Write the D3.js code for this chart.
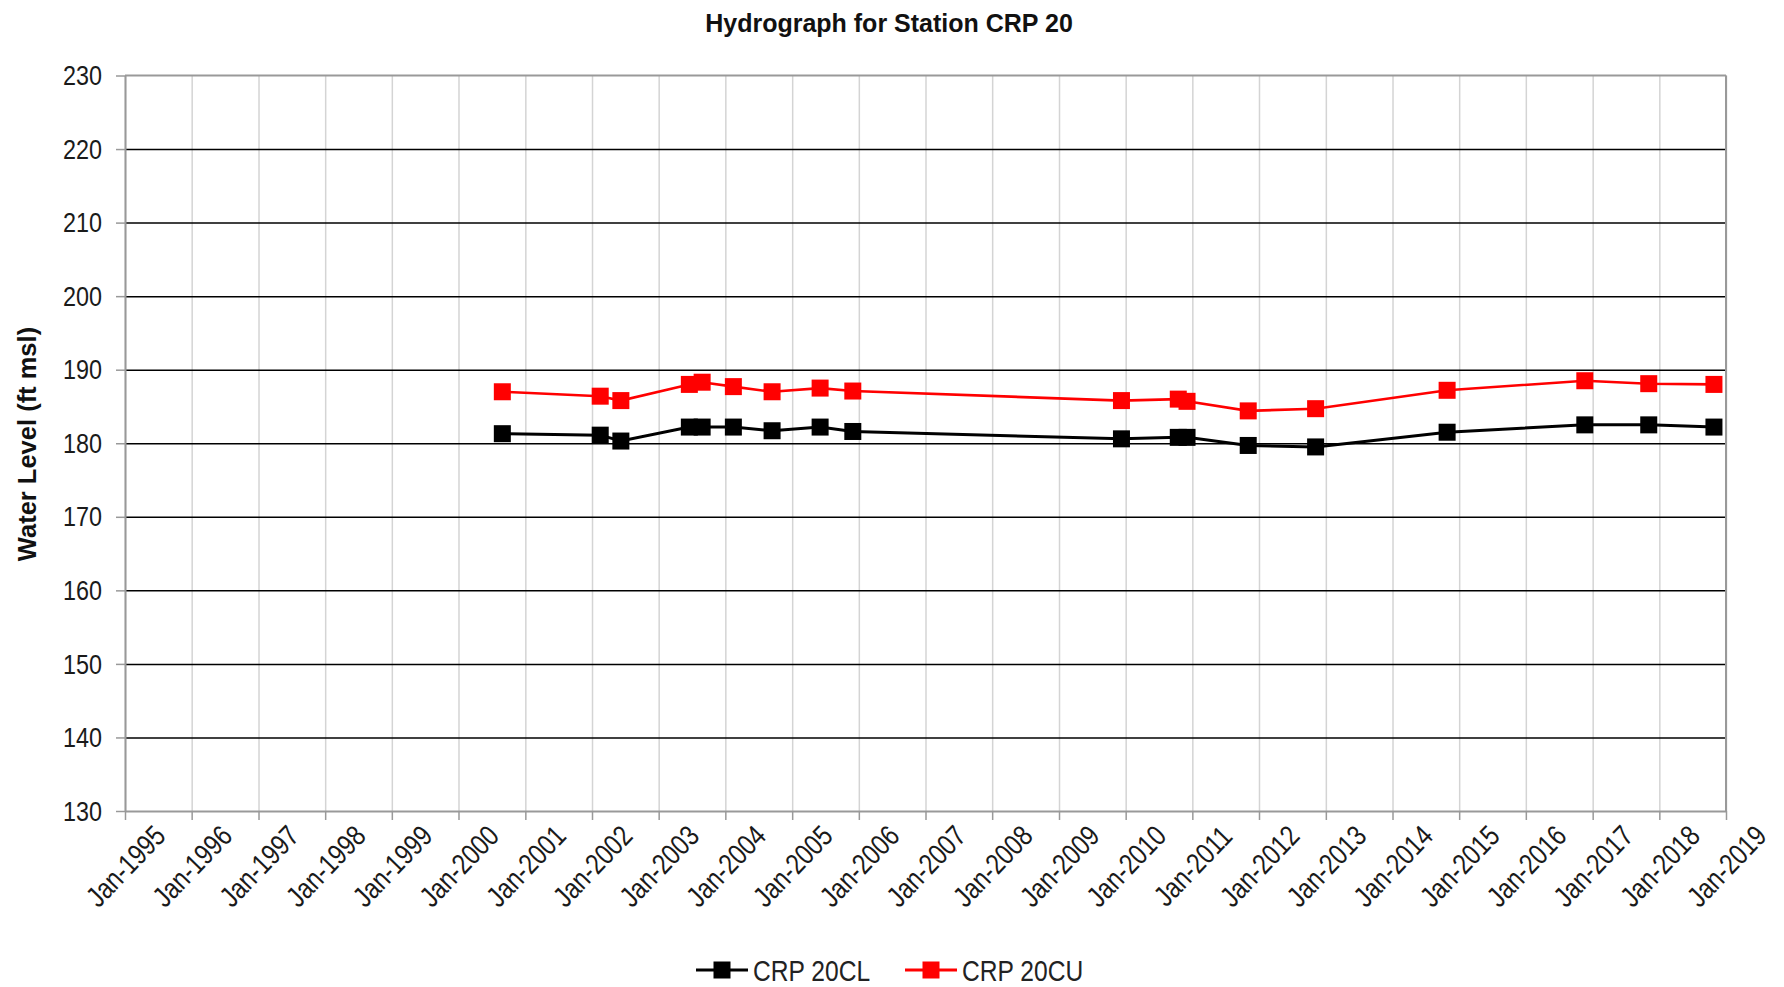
<!DOCTYPE html>
<html><head><meta charset="utf-8">
<script src="https://cdn.jsdelivr.net/npm/d3@7"></script>
<style>body{margin:0;background:#fff;} svg{display:block;background:#fff;}</style>
</head><body><svg id="c" width="1784" height="987"></svg>
<script>
const titleText = "Hydrograph for Station CRP 20";
const yAxisLabel = "Water Level (ft msl)";
const seriesNames = ["CRP 20CL", "CRP 20CU"];
const seriesColors = ["#000000", "#ff0000"];
const sampleDates = ["2000-08-28","2002-02-15","2002-06-08","2003-06-18","2003-08-27","2004-02-14","2004-09-13","2005-06-03","2005-11-29","2009-12-09","2010-10-16","2010-12-03","2011-11-03","2012-11-06","2014-10-27","2016-11-19","2017-11-04","2018-10-27"];
const valuesCL = [181.3,181.1,180.3,182.2,182.2,182.2,181.7,182.2,181.6,180.6,180.8,180.8,179.7,179.5,181.5,182.5,182.5,182.2];
const valuesCU = [187.0,186.4,185.8,188.0,188.3,187.7,187.0,187.5,187.1,185.8,186.0,185.7,184.4,184.7,187.2,188.5,188.1,188.0];
const yTicks = [130,140,150,160,170,180,190,200,210,220,230];
const xTickYears = d3.range(1995, 2020);

const svg = d3.select("#c");
const L = 125, R = 1726, T = 75.5, B = 811;
const parse = d3.timeParse("%Y-%m-%d");
const x = d3.scaleTime().domain([new Date(1995,0,1), new Date(2019,0,1)]).range([L, R]);
const y = d3.scaleLinear().domain([130, 230]).range([B, T]);
const sans = "'Liberation Sans',Arial,sans-serif";
const NX = 0.82; // horizontal condensing to mimic a narrow face
const xTicks = xTickYears.map(yr => new Date(yr,0,1));

// vertical gridlines
svg.append("g").attr("transform",`translate(0,${B})`)
  .call(d3.axisBottom(x).tickValues(xTicks).tickSize(-(B-T)).tickFormat(""))
  .call(g => { g.select(".domain").remove(); g.selectAll("line").attr("stroke","#d4d4d4").attr("stroke-width",1.5); });
// horizontal gridlines
svg.append("g").attr("transform",`translate(${L},0)`)
  .call(d3.axisLeft(y).tickValues(yTicks.filter(v=>v>130 && v<230)).tickSize(-(R-L)).tickFormat(""))
  .call(g => { g.select(".domain").remove(); g.selectAll("line").attr("stroke","#000").attr("stroke-width",1.5); });
// top & right border
svg.append("line").attr("x1",L).attr("x2",R).attr("y1",y(230)).attr("y2",y(230)).attr("stroke","#999").attr("stroke-width",2);
svg.append("line").attr("x1",R).attr("x2",R).attr("y1",T).attr("y2",B).attr("stroke","#999").attr("stroke-width",2);

// y axis
svg.append("g").attr("transform",`translate(${L},0)`)
  .call(d3.axisLeft(y).tickValues(yTicks).tickSize(9).tickSizeOuter(0))
  .call(g => {
    g.select(".domain").attr("stroke","#999").attr("stroke-width",2);
    g.selectAll("line").attr("stroke","#999").attr("stroke-width",1.5);
    g.selectAll("text").attr("font-family",sans).attr("font-size",28.5).attr("fill","#1a1a1a")
      .attr("x",0).attr("text-anchor","end").attr("transform",`translate(-23,0) scale(${NX},1)`);
  });
// x axis
svg.append("g").attr("transform",`translate(0,${B})`)
  .call(d3.axisBottom(x).tickValues(xTicks).tickSize(9).tickSizeOuter(0).tickFormat(d3.timeFormat("Jan-%Y")))
  .call(g => {
    g.select(".domain").attr("stroke","#999").attr("stroke-width",2);
    g.selectAll("line").attr("stroke","#999").attr("stroke-width",1.5);
    g.selectAll("text").attr("font-family",sans).attr("font-size",29).attr("fill","#1a1a1a")
      .attr("y",0).attr("dy","0.35em").attr("text-anchor","middle")
      .attr("transform",`translate(0,55) rotate(-46) scale(${NX},1)`);
  });

// series
const series = [valuesCL, valuesCU].map((vals,i)=>({name:seriesNames[i], color:seriesColors[i],
  pts: vals.map((v,j)=>({d:parse(sampleDates[j]), v}))}));
const line = d3.line().x(p=>x(p.d)).y(p=>y(p.v));
const ms = 17;
series.forEach((s,i)=>{
  svg.append("path").datum(s.pts).attr("d",line).attr("fill","none")
    .attr("stroke",s.color).attr("stroke-width", i===0?3:2.6);
  svg.append("g").selectAll("rect").data(s.pts).join("rect")
    .attr("x",p=>x(p.d)-ms/2).attr("y",p=>y(p.v)-ms/2).attr("width",ms).attr("height",ms)
    .attr("fill",s.color);
});

// title
svg.append("text").attr("x",889).attr("y",23).attr("dy","0.35em").attr("text-anchor","middle")
  .attr("font-family",sans).attr("font-weight","bold").attr("font-size",25)
  .attr("fill","#111").text(titleText);
// y label
svg.append("text").attr("transform","translate(27,444) rotate(-90)").attr("dy","0.35em").attr("text-anchor","middle")
  .attr("font-family",sans).attr("font-weight","bold").attr("font-size",25.5)
  .attr("fill","#111").text(yAxisLabel);

// legend
const legX = [696, 905];
series.forEach((s,i)=>{
  const g = svg.append("g").attr("transform",`translate(${legX[i]},970)`);
  g.append("line").attr("x1",0).attr("x2",52).attr("y1",0).attr("y2",0).attr("stroke",s.color).attr("stroke-width",3);
  g.append("rect").attr("x",26-ms/2).attr("y",-ms/2).attr("width",ms).attr("height",ms).attr("fill",s.color);
  g.append("text").attr("transform",`translate(57,0) scale(${NX},1)`).attr("dy","0.35em").attr("font-family",sans).attr("font-size",30)
    .attr("fill","#222").text(s.name);
});
</script></body></html>
